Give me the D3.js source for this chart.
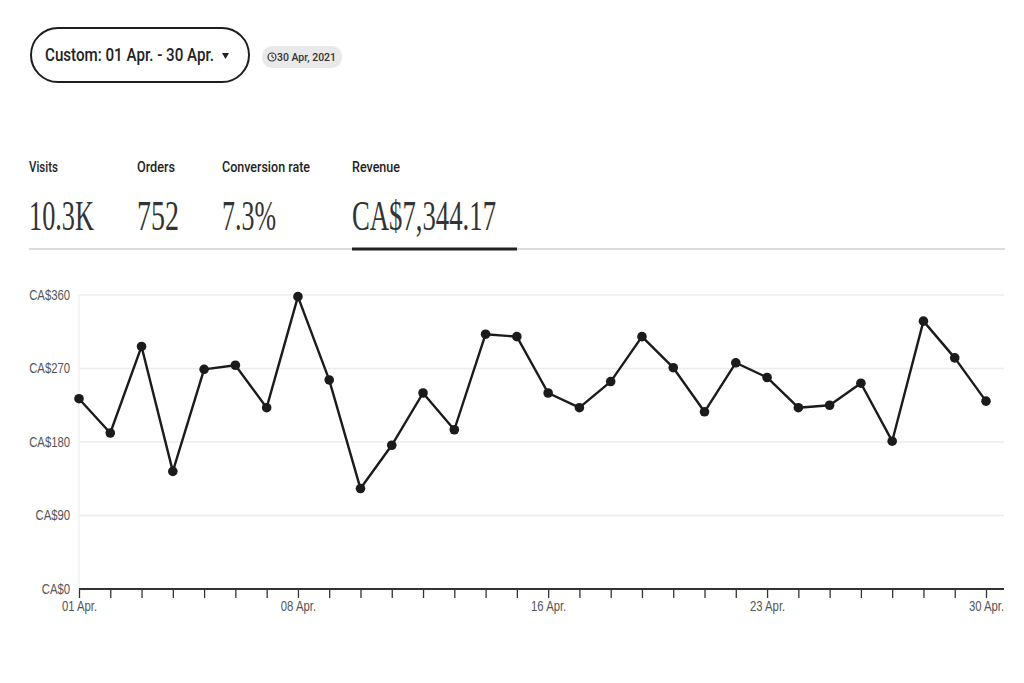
<!DOCTYPE html>
<html lang="en">
<head>
	<meta charset="utf-8">
	<title>Revenue - April</title>
	<script src='https://d3js.org/d3.v7.min.js'></script>
	<style>
		body {margin:0; background:#fff;}
		text {font-family:"Liberation Sans", Arial, sans-serif;}
		.ytick text, .xtick text {fill:#555; font-size:14px;}
	</style>
</head>
<body>
	<div id="chart"></div>
	<script>
		// days of April 2021 and daily revenue (CA$)
		const days = [1,2,3,4,5,6,7,8,9,10,11,12,13,14,15,16,17,18,19,20,21,22,23,24,25,26,27,28,29,30];
		const revenue = [233,191,297,144,269,274,222,358,256,123,176,240,195,312,309,240,222,254,309,271,217,277,259,222,225,252,181,328,283,230];
		const yTicks = [0, 90, 180, 270, 360];
		const labelDays = [1, 8, 16, 23, 30];
		const labelText = ["01 Apr.", "08 Apr.", "16 Apr.", "23 Apr.", "30 Apr."];
		const metricNames = ["Visits", "Orders", "Conversion rate", "Revenue"];
		const metricValues = ["10.3K", "752", "7.3%", "CA$7,344.17"];

		const width = 1024, height = 683;
		const svg = d3.select("#chart").append("svg")
			.attr("width", width)
			.attr("height", height);

		// --- header: date range button and badge
		svg.append("rect")
			.attr("x", 31).attr("y", 28).attr("width", 218).attr("height", 54)
			.attr("rx", 27)
			.attr("fill", "#fff").attr("stroke", "#1e1e1e").attr("stroke-width", 2);
		svg.append("text")
			.attr("x", 45).attr("y", 61)
			.attr("textLength", 169).attr("lengthAdjust", "spacingAndGlyphs")
			.style("font-size", "19px").style("font-weight", "500").attr("fill", "#222")
			.style("font-family", "Roboto, sans-serif")
			.text("Custom: 01 Apr. - 30 Apr.");
		svg.append("path")
			.attr("d", "M222,53 L229,53 L225.5,59 Z")
			.attr("fill", "#222");

		svg.append("rect")
			.attr("x", 262).attr("y", 46).attr("width", 80).attr("height", 22)
			.attr("rx", 10).attr("fill", "#e9e9e9");
		svg.append("circle")
			.attr("cx", 272).attr("cy", 57).attr("r", 4)
			.attr("fill", "none").attr("stroke", "#333").attr("stroke-width", 1.2);
		svg.append("path")
			.attr("d", "M272,54.5 L272,57 L274,58")
			.attr("fill", "none").attr("stroke", "#333").attr("stroke-width", 1);
		svg.append("text")
			.attr("x", 277).attr("y", 61)
			.attr("textLength", 59).attr("lengthAdjust", "spacingAndGlyphs")
			.style("font-size", "11px").style("font-weight", "500").attr("fill", "#333")
			.style("font-family", "Roboto, sans-serif")
			.text("30 Apr, 2021");

		// --- metrics row
		const metricX = [29, 137, 222, 352];
		const nameW = [29, 38, 88, 48];
		const valueW = [65, 42, 54, 144];
		svg.selectAll(".mname")
			.data(metricNames)
			.enter()
			.append("text")
			.attr("class", "mname")
			.attr("x", function (d, i) { return metricX[i]; })
			.attr("y", 172)
			.attr("textLength", function (d, i) { return nameW[i]; })
			.attr("lengthAdjust", "spacingAndGlyphs")
			.style("font-size", "14px").style("font-weight", "500")
			.style("font-family", "Roboto, sans-serif")
			.attr("fill", "#1e1e1e")
			.text(function (d) { return d; });
		svg.selectAll(".mval")
			.data(metricValues)
			.enter()
			.append("text")
			.attr("class", "mval")
			.attr("x", function (d, i) { return metricX[i]; })
			.attr("y", 230)
			.attr("textLength", function (d, i) { return valueW[i]; })
			.attr("lengthAdjust", "spacingAndGlyphs")
			.style("font-family", "'Liberation Serif', 'DejaVu Serif', serif")
			.style("font-size", "42px").attr("fill", "#333")
			.text(function (d) { return d; });

		svg.append("line")
			.attr("x1", 29).attr("x2", 1005).attr("y1", 249).attr("y2", 249)
			.attr("stroke", "#dcdcdc").attr("stroke-width", 2);
		svg.append("line")
			.attr("x1", 352).attr("x2", 517).attr("y1", 249).attr("y2", 249)
			.attr("stroke", "#222").attr("stroke-width", 3);

		// --- chart
		const x = d3.scaleLinear().domain([1, 30]).range([79, 986]);
		const y = d3.scaleLinear().domain([0, 360]).range([589, 295]);
		const plotRight = 1004;

		// gridlines
		svg.append("g")
			.selectAll("line")
			.data(yTicks.slice(1))
			.enter()
			.append("line")
			.attr("x1", x(1)).attr("x2", plotRight)
			.attr("y1", function (d) { return y(d); })
			.attr("y2", function (d) { return y(d); })
			.attr("stroke", "#ececec").attr("stroke-width", 1.5);
		svg.append("line")
			.attr("x1", x(1)).attr("x2", x(1))
			.attr("y1", y(360)).attr("y2", y(0))
			.attr("stroke", "#ececec").attr("stroke-width", 1);

		// y axis labels
		const yAxis = svg.append("g")
			.attr("class", "ytick")
			.attr("transform", "translate(" + x(1) + ",0)")
			.call(d3.axisLeft(y).tickValues(yTicks).tickSize(0).tickPadding(11)
				.tickFormat(function (d) { return "CA$" + d; }));
		yAxis.select(".domain").remove();
		yAxis.selectAll("text").attr("transform", "scale(0.81,1)");

		// x axis with a tick every day
		const xAxis = svg.append("g")
			.attr("class", "xtick")
			.attr("transform", "translate(0," + y(0) + ")")
			.call(d3.axisBottom(x).tickValues(days).tickSize(9).tickPadding(3)
				.tickFormat(function (d) {
					const k = labelDays.indexOf(d);
					return k >= 0 ? labelText[k] : "";
				}));
		xAxis.select(".domain").remove();
		xAxis.selectAll(".tick line").attr("stroke", "#333").attr("stroke-width", 1.3);
		xAxis.selectAll("text").attr("transform", "scale(0.81,1)");
		svg.append("line")
			.attr("x1", x(1)).attr("x2", plotRight)
			.attr("y1", y(0)).attr("y2", y(0))
			.attr("stroke", "#333").attr("stroke-width", 1.8);

		// revenue line
		const line = d3.line()
			.x(function (d, i) { return x(days[i]); })
			.y(function (d) { return y(d); });
		svg.append("path")
			.datum(revenue)
			.attr("d", line)
			.attr("fill", "none")
			.attr("stroke", "#1b1b1b")
			.attr("stroke-width", 2.4)
			.attr("stroke-linejoin", "round");
		svg.selectAll(".dot")
			.data(revenue)
			.enter()
			.append("circle")
			.attr("class", "dot")
			.attr("cx", function (d, i) { return x(days[i]); })
			.attr("cy", function (d) { return y(d); })
			.attr("r", 4.8)
			.attr("fill", "#1b1b1b");
	</script>
</body>
</html>
